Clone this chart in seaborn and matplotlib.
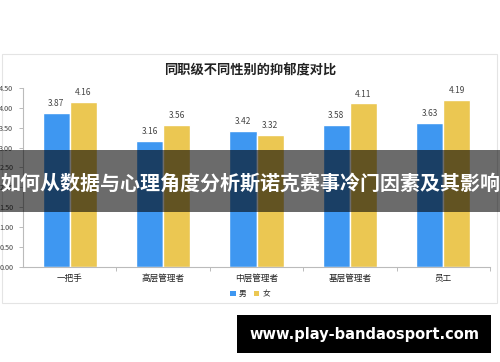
import matplotlib
matplotlib.use("Agg")
import matplotlib.pyplot as plt
from matplotlib.patches import Rectangle, Patch
import seaborn as sns
import pandas as pd

categories = ['一把手', '高层管理者', '中层管理者', '基层管理者', '员工']
male = [3.87, 3.16, 3.42, 3.58, 3.63]
female = [4.16, 3.56, 3.32, 4.11, 4.19]
series_names = ['男', '女']
yticks = [0.0, 0.5, 1.0, 1.5, 2.0, 2.5, 3.0, 3.5, 4.0, 4.5]
title = '同职级不同性别的抑郁度对比'
banner = '如何从数据与心理角度分析斯诺克赛事冷门因素及其影响'
url = 'www.play-bandaosport.com'

sns.set_style('white')
plt.rcParams['font.family'] = ['Noto Sans CJK SC', 'DejaVu Sans']

W, H = 500, 362
fig = plt.figure(figsize=(5.0, 3.62), dpi=100)

def fx(px):
    return px / W

def fy(py):
    return 1 - py / H

# card background
card = Rectangle((fx(2), fy(303)), fx(497) - fx(2), fy(54) - fy(303),
                 transform=fig.transFigure, facecolor='white',
                 edgecolor='#e4e4e4', linewidth=0.8, zorder=-5)
fig.patches.append(card)

ax = fig.add_axes([fx(23), fy(266.7), fx(490) - fx(23), fy(88) - fy(266.7)])
ax.set_facecolor('none')
ax.set_zorder(1)

df = pd.DataFrame({
    'cat': categories * 2,
    'val': male + female,
    'sex': [series_names[0]] * len(categories) + [series_names[1]] * len(categories),
})
palette = {'男': '#3e97f1', '女': '#ebc752'}
sns.barplot(data=df, x='cat', y='val', hue='sex', palette=palette,
            width=0.58, ax=ax, legend=False, saturation=1)

for cont in ax.containers:
    for bar in cont:
        h = bar.get_height()
        ax.annotate(f'{h:.2f}', (bar.get_x() + bar.get_width() / 2, h),
                    xytext=(0, 3.5), textcoords='offset points',
                    ha='center', va='bottom', fontsize=6.0, color='#444444')

ax.set_xlim(-0.5, len(categories) - 0.5)
ax.set_ylim(0, 4.5)
ax.set_yticks(yticks)
ax.set_yticklabels([f'{v:.2f}' for v in yticks], fontsize=5.2, color='#444444')
ax.set_xticks(range(len(categories)))
ax.set_xticklabels(categories, fontsize=6.2, color='#222222')
ax.set_xticks([i + 0.5 for i in range(len(categories))], minor=True)
ax.tick_params(axis='x', which='major', length=0, pad=5)
ax.tick_params(axis='x', which='minor', length=3, color='#bbbbbb', width=0.7, direction='out', bottom=True)
ax.tick_params(axis='y', length=3, color='#bbbbbb', width=0.7, direction='out', left=True, pad=4)
ax.set_xlabel('')
ax.set_ylabel('')
for s in ['top', 'right']:
    ax.spines[s].set_visible(False)
for s in ['left', 'bottom']:
    ax.spines[s].set_color('#bbbbbb')
    ax.spines[s].set_linewidth(0.8)

fig.text(0.5, fy(70), title, ha='center', va='center', fontsize=9.5,
         fontweight='bold', color='#222222')

# legend
handles = [Patch(facecolor=palette[n], edgecolor='none', label=n) for n in series_names]
fig.legend(handles=handles, loc='center', bbox_to_anchor=(0.5, fy(294)), ncol=2,
           frameon=False, fontsize=5.5, handlelength=0.7, handleheight=0.7,
           columnspacing=1.0, handletextpad=0.4)

# banner overlay
band = Rectangle((0, fy(212)), 1, fy(150) - fy(212), transform=fig.transFigure,
                 facecolor='black', alpha=0.58, edgecolor='none', zorder=10)
fig.patches.append(band)
fig.text(0.5, fy(183), banner, ha='center', va='center', fontsize=14.4,
         fontweight='bold', color='white', zorder=11)

# url box
ubox = Rectangle((fx(237), fy(353)), fx(491) - fx(237), fy(315) - fy(353),
                 transform=fig.transFigure, facecolor='black', edgecolor='none', zorder=10)
fig.patches.append(ubox)
fig.text(fx(364), fy(334), url, ha='center', va='center', fontsize=10.5,
         fontweight='bold', color='white', family='DejaVu Sans', zorder=11)

fig.savefig('out.png', dpi=100, facecolor='white')
